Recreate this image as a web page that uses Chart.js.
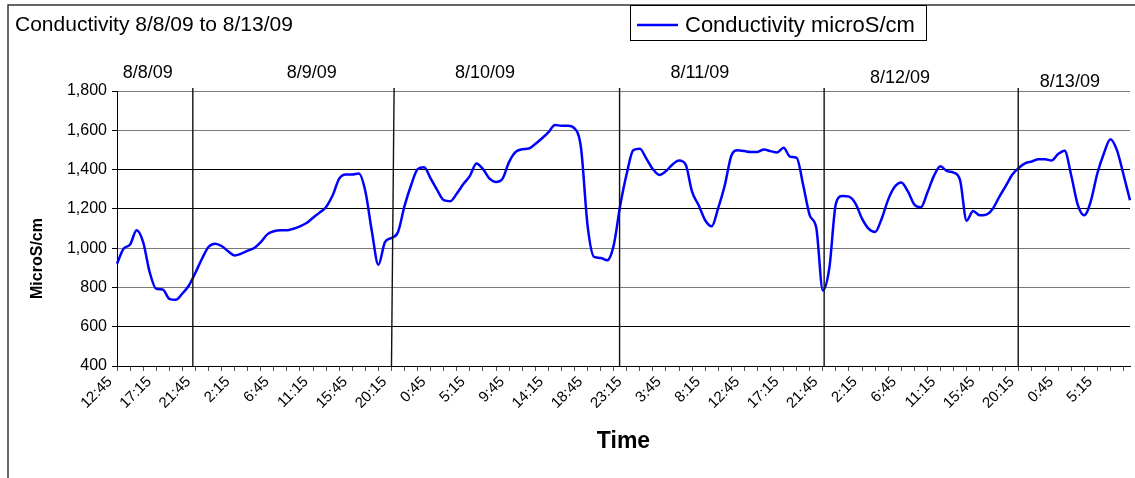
<!DOCTYPE html>
<html>
<head>
<meta charset="utf-8">
<script src="https://cdn.jsdelivr.net/npm/chart.js@4.4.1/dist/chart.umd.min.js"></script>
<style>
  html, body { margin: 0; padding: 0; background: #fff; }
</style>
</head>
<body>
<canvas id="conductivityChart" width="1135" height="478"></canvas>
<script>
// readings every 45 minutes, 8/8/09 12:45 to 8/13/09 9:00
var timeLabels = [
  '12:45', '13:30', '14:15', '15:00', '15:45', '16:30',
  '17:15', '18:00', '18:45', '19:30', '20:15', '21:00',
  '21:45', '22:30', '23:15', '0:00', '0:45', '1:30',
  '2:15', '3:00', '3:45', '4:30', '5:15', '6:00',
  '6:45', '7:30', '8:15', '9:00', '9:45', '10:30',
  '11:15', '12:00', '12:45', '13:30', '14:15', '15:00',
  '15:45', '16:30', '17:15', '18:00', '18:45', '19:30',
  '20:15', '21:00', '21:45', '22:30', '23:15', '0:00',
  '0:45', '1:30', '2:15', '3:00', '3:45', '4:30',
  '5:15', '6:00', '6:45', '7:30', '8:15', '9:00',
  '9:45', '10:30', '11:15', '12:00', '12:45', '13:30',
  '14:15', '15:00', '15:45', '16:30', '17:15', '18:00',
  '18:45', '19:30', '20:15', '21:00', '21:45', '22:30',
  '23:15', '0:00', '0:45', '1:30', '2:15', '3:00',
  '3:45', '4:30', '5:15', '6:00', '6:45', '7:30',
  '8:15', '9:00', '9:45', '10:30', '11:15', '12:00',
  '12:45', '13:30', '14:15', '15:00', '15:45', '16:30',
  '17:15', '18:00', '18:45', '19:30', '20:15', '21:00',
  '21:45', '22:30', '23:15', '0:00', '0:45', '1:30',
  '2:15', '3:00', '3:45', '4:30', '5:15', '6:00',
  '6:45', '7:30', '8:15', '9:00', '9:45', '10:30',
  '11:15', '12:00', '12:45', '13:30', '14:15', '15:00',
  '15:45', '16:30', '17:15', '18:00', '18:45', '19:30',
  '20:15', '21:00', '21:45', '22:30', '23:15', '0:00',
  '0:45', '1:30', '2:15', '3:00', '3:45', '4:30',
  '5:15', '6:00', '6:45', '7:30', '8:15', '9:00'
];

var conductivity = [
  921, 997, 1018, 1091, 1031, 878, 793, 790, 742, 737,
  769, 810, 875, 946, 1006, 1023, 1011, 984, 963, 972,
  987, 1001, 1031, 1070, 1086, 1091, 1091, 1099, 1111, 1128,
  1155, 1181, 1210, 1269, 1354, 1375, 1375, 1380, 1290, 1085,
  915, 1031, 1052, 1082, 1215, 1320, 1402, 1412, 1354, 1295,
  1244, 1239, 1278, 1326, 1368, 1431, 1402, 1354, 1337, 1354,
  1439, 1490, 1504, 1507, 1530, 1558, 1589, 1627, 1623, 1623,
  1610, 1510, 1116, 955, 950, 938, 1014, 1218, 1380, 1499,
  1506, 1456, 1402, 1373, 1392, 1426, 1446, 1426, 1286, 1218,
  1142, 1111, 1205, 1320, 1470, 1499, 1494, 1490, 1490, 1502,
  1494, 1487, 1511, 1465, 1460, 1320, 1167, 1103, 785, 900,
  1227, 1266, 1262, 1227, 1150, 1099, 1082, 1150, 1247, 1312,
  1334, 1290, 1222, 1208, 1283, 1368, 1417, 1392, 1385, 1346,
  1140, 1189, 1167, 1171, 1201, 1261, 1317, 1375, 1409, 1433,
  1441, 1453, 1453, 1446, 1479, 1496, 1371, 1222, 1167, 1239,
  1380, 1482, 1555, 1499, 1375, 1244
];

var yTicks = [400, 600, 800, 1000, 1200, 1400, 1600, 1800];
var greyGridValues = [1800, 1600, 1000, 800];

// day markers drawn by hand on the original, placed in category-index units
var dayNames = ['8/8/09', '8/9/09', '8/10/09', '8/11/09', '8/12/09', '8/13/09'];
var dayNameAt = [4.7, 29.8, 56.3, 89.2, 119.8, 145.8];
var dayNameRise = [13, 13, 13, 13, 8, 4];
var dayLineTop = [11.6, 42.4, 76.9, 108.2, 137.9];
var dayLineBottom = [11.6, 42.0, 76.9, 108.2, 137.9];

var FONT = '"Liberation Sans", Arial, sans-serif';

var decorations = {
  id: 'decorations',
  beforeDraw: function(chart) {
    var ctx = chart.ctx;
    ctx.save();
    ctx.fillStyle = '#fff';
    ctx.fillRect(0, 0, chart.width, chart.height);
    ctx.restore();
  },
  afterDraw: function(chart) {
    var ctx = chart.ctx;
    var x = chart.scales.x, y = chart.scales.y;
    var top = y.getPixelForValue(1800), bottom = y.getPixelForValue(400);
    var ds = chart.data.datasets[0];
    ctx.save();

    // outer frame (left and top edge only show)
    ctx.strokeStyle = '#333';
    ctx.lineWidth = 1.5;
    ctx.beginPath();
    ctx.moveTo(8, chart.height);
    ctx.lineTo(8, 5);
    ctx.lineTo(chart.width, 5);
    ctx.stroke();

    // title
    ctx.fillStyle = '#000';
    ctx.textAlign = 'left';
    ctx.textBaseline = 'alphabetic';
    ctx.font = '21px ' + FONT;
    ctx.fillText('Conductivity 8/8/09 to 8/13/09', 15, 31);

    // legend box
    ctx.lineWidth = 1;
    ctx.strokeStyle = '#000';
    ctx.strokeRect(630.5, 5.5, 296, 35);
    ctx.strokeStyle = ds.borderColor;
    ctx.lineWidth = 2.5;
    ctx.beginPath();
    ctx.moveTo(637, 25);
    ctx.lineTo(678, 25);
    ctx.stroke();
    ctx.font = '22px ' + FONT;
    ctx.fillText(ds.label, 685, 32);

    // day separators
    ctx.strokeStyle = '#111';
    ctx.lineWidth = 1.4;
    for (var i = 0; i < dayLineTop.length; i++) {
      ctx.beginPath();
      ctx.moveTo(x.getPixelForValue(dayLineTop[i]), top - 3);
      ctx.lineTo(x.getPixelForValue(dayLineBottom[i]), bottom);
      ctx.stroke();
    }

    // day names
    ctx.font = '18px ' + FONT;
    ctx.textAlign = 'center';
    for (var j = 0; j < dayNames.length; j++) {
      ctx.fillText(dayNames[j], x.getPixelForValue(dayNameAt[j]), top - dayNameRise[j]);
    }

    // y axis title, sits a bit below the middle in the original
    ctx.translate(38, (top + bottom) / 2 + 30);
    ctx.rotate(-Math.PI / 2);
    ctx.font = 'bold 16px ' + FONT;
    ctx.textBaseline = 'middle';
    ctx.fillText('MicroS/cm', 0, 0);
    ctx.restore();
  }
};

var ctx = document.getElementById('conductivityChart').getContext('2d');
var chart = new Chart(ctx, {
  type: 'line',
  data: {
    labels: timeLabels,
    datasets: [{
      label: 'Conductivity microS/cm',
      data: conductivity,
      borderColor: '#0000ff',
      borderWidth: 2.5,
      pointRadius: 0,
      fill: false,
      cubicInterpolationMode: 'monotone'
    }]
  },
  options: {
    responsive: false,
    animation: false,
    layout: { padding: { left: 0, right: 5, top: 91, bottom: 0 } },
    plugins: {
      legend: { display: false },
      tooltip: { enabled: false }
    },
    scales: {
      x: {
        type: 'category',
        offset: false,
        afterFit: function(s) {
          s.height = 112;
          s.paddingLeft = 0;
          s.paddingRight = 0;
        },
        grid: {
          drawOnChartArea: false,
          drawTicks: true,
          tickLength: 5,
          tickColor: function(c) { return c.index % 2 === 0 ? '#555' : 'rgba(0,0,0,0)'; }
        },
        border: { display: true, color: '#000', width: 1 },
        ticks: {
          autoSkip: false,
          maxRotation: 45,
          minRotation: 45,
          padding: 2,
          labelOffset: -7,
          color: '#000',
          font: { family: FONT, size: 15 },
          callback: function(v, i) { return i % 6 === 0 ? this.getLabelForValue(v) : ''; }
        },
        title: {
          display: true,
          text: 'Time',
          color: '#000',
          font: { family: FONT, size: 23, weight: 'bold' },
          padding: { top: 0, bottom: 23 }
        }
      },
      y: {
        min: yTicks[0],
        max: yTicks[yTicks.length - 1],
        afterFit: function(s) { s.width = 117; },
        afterBuildTicks: function(s) { s.ticks = yTicks.map(function(v) { return { value: v }; }); },
        grid: {
          lineWidth: 1,
          tickLength: 5,
          tickColor: '#000',
          color: function(c) {
            return c.tick && greyGridValues.indexOf(c.tick.value) >= 0 ? '#7a7a7a' : '#000';
          }
        },
        border: { display: true, color: '#000', width: 1 },
        ticks: {
          padding: 5,
          color: '#000',
          font: { family: FONT, size: 16 },
          callback: function(v) { return v.toLocaleString('en-US'); }
        }
      }
    }
  },
  plugins: [decorations]
});
</script>
</body>
</html>
